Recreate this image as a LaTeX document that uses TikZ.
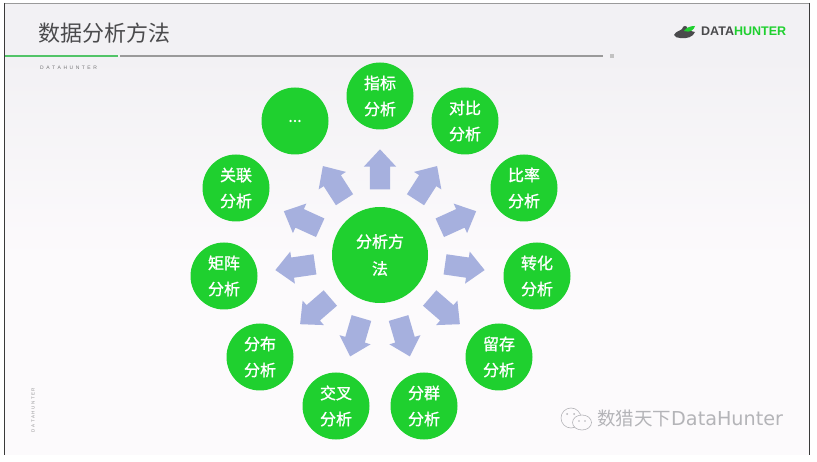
\documentclass[tikz,border=0pt]{standalone}
\usepackage{fontspec}
\setmainfont{Noto Sans CJK SC}
\newfontfamily\latinbold{Liberation Sans}
\newfontfamily\wmlatin{DejaVu Sans}
\newfontfamily\medcjk[FakeBold=1.1]{Noto Sans CJK SC}
\usetikzlibrary{shapes.arrows,calc}
\definecolor{bubblegreen}{HTML}{1FD02F}
\definecolor{arrowblue}{HTML}{A6B0DE}
\definecolor{headbg}{HTML}{F2F1F4}
\definecolor{pagebg}{HTML}{FCFAFC}
\definecolor{inkgray}{HTML}{4A4A4C}
\definecolor{rulegray}{HTML}{9A9A9A}
\definecolor{rulegreen}{HTML}{52C468}
\definecolor{framedark}{HTML}{3A3A3A}
\definecolor{wmgray}{HTML}{B4B4B8}
\tikzset{
  x=1pt,y=-1pt,
  bubble/.style={circle,fill=bubblegreen,minimum size=67pt,inner sep=0pt,text=white,align=center,font=\fontsize{16}{26}\medcjk},
  hub/.style={bubble,minimum size=96pt,font=\fontsize{16}{27}\medcjk},
  fatarrow/.style={single arrow,fill=arrowblue,minimum width=32pt,minimum height=40pt,
    text height=20pt,text depth=0pt,text width=0pt,
    single arrow head extend=6pt,single arrow tip angle=86,inner sep=0pt,anchor=tip},
}
\begin{document}
\begin{tikzpicture}
\useasboundingbox (0,0) rectangle (817,462);
\fill[white] (0,0) rectangle (817,462);
\fill[top color=headbg,bottom color=pagebg] (4,56) rectangle (809,260);
\fill[pagebg] (4,260) rectangle (809,455);
\fill[headbg] (4,3) rectangle (809,56);
\draw[rulegray,line width=0.8pt] (4,3) -- (809,3);
\draw[framedark,line width=0.9pt] (4.5,3) -- (4.5,455);
\draw[framedark,line width=0.9pt] (809,3) -- (809,455);
% header
\node[anchor=west,text=inkgray,font=\fontsize{22}{26}\selectfont,inner sep=0pt] (title) at (38,33) {数据分析方法};
\coordinate (ruleA) at (5,56.5);
\coordinate (ruleB) at (118,56.5);
\coordinate (ruleC) at (120,56.5);
\coordinate (ruleD) at (603,56.5);
\draw[rulegreen,line width=2pt] (ruleA) -- (ruleB);
\draw[rulegray,line width=2pt] (ruleC) -- (ruleD);
\node[fill=rulegray!60,minimum size=4pt,inner sep=0pt] (pg) at (612,56.5) {};
\node[anchor=west,text=inkgray!75,font=\latinbold\fontsize{5}{6}\selectfont,inner sep=0pt] (sub) at (40,67.5) {D\,\,\,A\,\,\,T\,\,\,A\,\,\,H\,\,\,U\,\,\,N\,\,\,T\,\,\,E\,\,\,R};
\node[anchor=west,font=\latinbold\fontsize{12.5}{14}\selectfont\bfseries,inner sep=0pt] (brand) at (701,31.5) {\textcolor{inkgray}{DATA}\textcolor{bubblegreen}{HUNTER}};
% logo
\fill[inkgray] (674,35) .. controls (676,31) and (680,31) .. (682,29) .. controls (683,25) and (687,25) .. (688,29) .. controls (691,31) and (693,32) .. (695,32) .. controls (693,37) and (687,39) .. (680,38) .. controls (677,38) and (675,37) .. (674,35) -- cycle;
\fill[bubblegreen] (684,31) .. controls (687,27) and (691,26) .. (695,26) .. controls (694,30) and (690,33) .. (684,31) -- cycle;
% side label
\node[rotate=90,text=inkgray!60,font=\latinbold\fontsize{4.5}{5}\selectfont,inner sep=0pt] (side) at (33,410) {D\,\,A\,\,T\,\,A\,\,H\,\,U\,\,N\,\,T\,\,E\,\,R};
% hub and bubbles
\node[hub] (hubnode) at (380,255) {分析方\\法};
\node[bubble] (b1) at (380,96) {指标\\分析};
\node[bubble] (b2) at (465,121) {对比\\分析};
\node[bubble] (b3) at (524,188) {比率\\分析};
\node[bubble] (b4) at (537,276) {转化\\分析};
\node[bubble] (b5) at (499,357) {留存\\分析};
\node[bubble] (b6) at (424,406) {分群\\分析};
\node[bubble] (b7) at (336,406) {交叉\\分析};
\node[bubble] (b8) at (260,357) {分布\\分析};
\node[bubble] (b9) at (224,276) {矩阵\\分析};
\node[bubble] (b10) at (236,188) {关联\\分析};
\node[bubble] (b11) at (295,121) {...};
% arrows
\foreach \i/\a in {1/90,2/57.3,3/24.5,4/-8.2,5/-40.9,6/-73.6,7/-106.4,8/-139.1,9/-171.8,10/155.5,11/122.7}{
  \node[fatarrow,rotate=\a] (arrow\i) at ($(hubnode.center)+({106*cos(\a)},{-106*sin(\a)})$) {};
}
% watermark
\node[anchor=west,text=wmgray,font=\fontsize{18.5}{22}\selectfont,inner sep=0pt] (wm) at (597,418) {数猎天下{\wmlatin\fontsize{19.2}{22}\selectfont DataHunter}};
\draw[wmgray,line width=0.6pt,fill=pagebg] (571,418) ellipse (10pt and 10pt);
\draw[wmgray,line width=0.6pt,fill=pagebg] (582,422.5) ellipse (9.5pt and 7.5pt);
\fill[wmgray] (567,414) circle (1pt) (574,414) circle (1pt) (579,421) circle (0.8pt) (585,421) circle (0.8pt);
\end{tikzpicture}
\end{document}
